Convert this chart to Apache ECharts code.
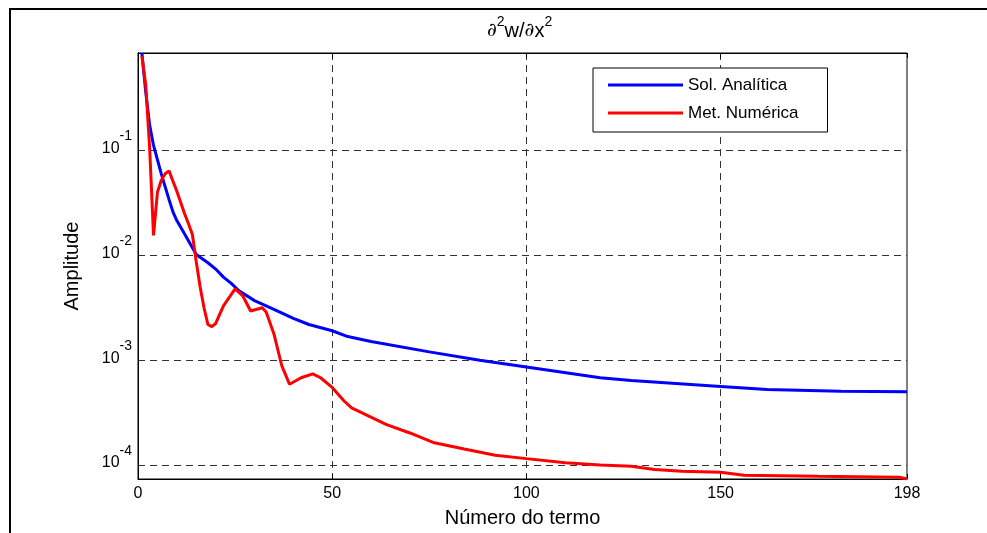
<!DOCTYPE html>
<html>
<head>
<meta charset="utf-8">
<script src="https://cdn.jsdelivr.net/npm/echarts@6/dist/echarts.min.js"></script>
<style>
html,body{margin:0;padding:0;background:#fff;}
#chart{width:987px;height:533px;}
</style>
</head>
<body>
<div id="chart"></div>
<script>
// ---- data ----
const seriesNames = ['Sol. Analítica', 'Met. Numérica'];
const nBlue = [1,2,3,4,5,6,7,8,9,10,12,15,18,20,22,24,26,30,35,40,44,50,54,60,75,88,100,119,127,150,162,181,198];
const blueVals = [0.853,0.36,0.175,0.112,0.082,0.060,0.045,0.034,0.026,0.0215,0.016,0.0102,0.0085,0.0074,0.0062,0.0054,0.0046,0.0037,0.00306,0.00251,0.00219,0.00191,0.00168,0.00151,0.00120,0.00100,0.00086,0.00068,0.00064,0.000562,0.000524,0.000505,0.000501];
const nRed = [1,2,3,4,5,6,7,8,9,10,12,13,14,15,16,17,18,19,20,22,25,27,29,32,33,35,37,39,42,45,47,50,53,55,64,70,76,84,92,100,110,119,127,133,140,150,156,175,196,198];
const redVals = [0.80,0.42,0.105,0.0155,0.040,0.052,0.060,0.064,0.051,0.041,0.025,0.020,0.0158,0.0087,0.0050,0.00316,0.00219,0.00209,0.00224,0.0033,0.0048,0.0041,0.00295,0.00316,0.00288,0.00178,0.00089,0.00059,0.00068,0.00074,0.00068,0.00055,0.00041,0.00035,0.000243,0.000202,0.000164,0.000142,0.000124,0.000115,0.000105,0.0001,0.0000973,0.0000904,0.0000871,0.0000851,0.0000798,0.000078,0.0000764,0.0000735];
const xMin = 0, xMax = 198, xInterval = 50;
const yMin = 0.0000735, yMax = 0.853;
const titleText = '{d|∂}{s|2}{t|w/}{d|∂}{t|x}{s|2}';
const xName = 'Número do termo';
const yName = 'Amplitude';

const FONT = '"Liberation Sans", Arial, Helvetica, sans-serif';
const toPairs = (xs, ys) => xs.map((x, i) => [x, ys[i]]);

const chart = echarts.init(document.getElementById('chart'), null, {renderer: 'canvas'});
const gridLine = {show: true, lineStyle: {color: '#333', type: [7, 5], width: 1}, showMinLine: false, showMaxLine: false};

chart.setOption({
  animation: false,
  backgroundColor: '#fff',
  textStyle: {fontFamily: FONT, color: '#000'},
  title: {
    text: titleText,
    left: 482, top: 8,
    textStyle: {
      fontWeight: 'normal',
      rich: {
        d: {fontFamily: '"DejaVu Serif", serif', fontStyle: 'italic', fontWeight: 'normal', fontSize: 19, color: '#000', padding: [8, 0, 0, 0]},
        t: {fontFamily: FONT, fontWeight: 'normal', fontSize: 20, color: '#000', padding: [8, 0, 0, 0]},
        s: {fontFamily: FONT, fontWeight: 'normal', fontSize: 14, color: '#000', padding: [0, 0, 10, 0]}
      }
    }
  },
  legend: {
    data: seriesNames,
    orient: 'vertical',
    left: 593, top: 68,
    icon: 'rect',
    itemWidth: 75, itemHeight: 3,
    itemGap: 11,
    padding: [8.5, 29, 10.5, 15],
    borderColor: '#000', borderWidth: 1,
    backgroundColor: '#fff',
    textStyle: {fontFamily: FONT, fontSize: 17, lineHeight: 17, color: '#000'}
  },
  grid: {left: 138, top: 53, right: 80, bottom: 53, show: true, borderColor: '#000', borderWidth: 1, backgroundColor: 'transparent'},
  xAxis: [{
    type: 'value', min: xMin, max: xMax, interval: xInterval,
    name: xName, nameLocation: 'middle', nameGap: 29,
    nameTextStyle: {fontFamily: FONT, fontSize: 20, color: '#000'},
    axisLine: {show: true, lineStyle: {color: '#000', width: 1}},
    axisTick: {show: true, inside: true, length: 5, lineStyle: {color: '#000'}},
    axisLabel: {fontFamily: FONT, fontSize: 16, color: '#000', margin: 7, showMaxLabel: true, showMinLabel: true},
    splitLine: gridLine
  }, {
    type: 'value', min: xMin, max: xMax, interval: xInterval, position: 'top',
    axisLine: {show: true, lineStyle: {color: '#000'}},
    axisTick: {show: true, inside: true, length: 5, lineStyle: {color: '#000'}},
    axisLabel: {show: false}, splitLine: {show: false}
  }],
  yAxis: [{
    type: 'log', logBase: 10, min: yMin, max: yMax,
    name: yName, nameLocation: 'middle', nameGap: 56, nameRotate: 90,
    nameTextStyle: {fontFamily: FONT, fontSize: 20, color: '#000'},
    axisLine: {show: true, lineStyle: {color: '#000', width: 1}},
    axisTick: {show: false},
    axisLabel: {
      margin: 6,
      formatter: function (v) {
        const e = Math.log10(v); const r = Math.round(e);
        if (Math.abs(e - r) > 1e-6) return '';
        return '{b|10}{s|' + r + '}';
      },
      rich: {
        b: {fontFamily: FONT, fontSize: 16, color: '#000', lineHeight: 16, padding: [11, 0, 15, 0]},
        s: {fontFamily: FONT, fontSize: 14, color: '#000', lineHeight: 14, padding: [0, 0, 28, 0]}
      }
    },
    splitLine: gridLine
  }, {
    type: 'log', logBase: 10, min: yMin, max: yMax, position: 'right',
    axisLine: {show: true, lineStyle: {color: '#000'}},
    axisTick: {show: false},
    axisLabel: {show: false}, splitLine: {show: false}
  }],
  series: [{
    name: seriesNames[0], type: 'line', xAxisIndex: 0, yAxisIndex: 0,
    data: toPairs(nBlue, blueVals), showSymbol: false, symbol: 'none',
    lineStyle: {color: '#0000ff', width: 3}, itemStyle: {color: '#0000ff'}, z: 3
  }, {
    name: seriesNames[1], type: 'line', xAxisIndex: 0, yAxisIndex: 0,
    data: toPairs(nRed, redVals), showSymbol: false, symbol: 'none',
    lineStyle: {color: '#ff0000', width: 3}, itemStyle: {color: '#ff0000'}, z: 4
  }],
  graphic: [
    {type: 'line', shape: {x1: 10, y1: 9, x2: 987, y2: 9}, style: {stroke: '#000', lineWidth: 2}, silent: true},
    {type: 'line', shape: {x1: 10, y1: 8, x2: 10, y2: 533}, style: {stroke: '#000', lineWidth: 2}, silent: true}
  ]
});
</script>
</body>
</html>
